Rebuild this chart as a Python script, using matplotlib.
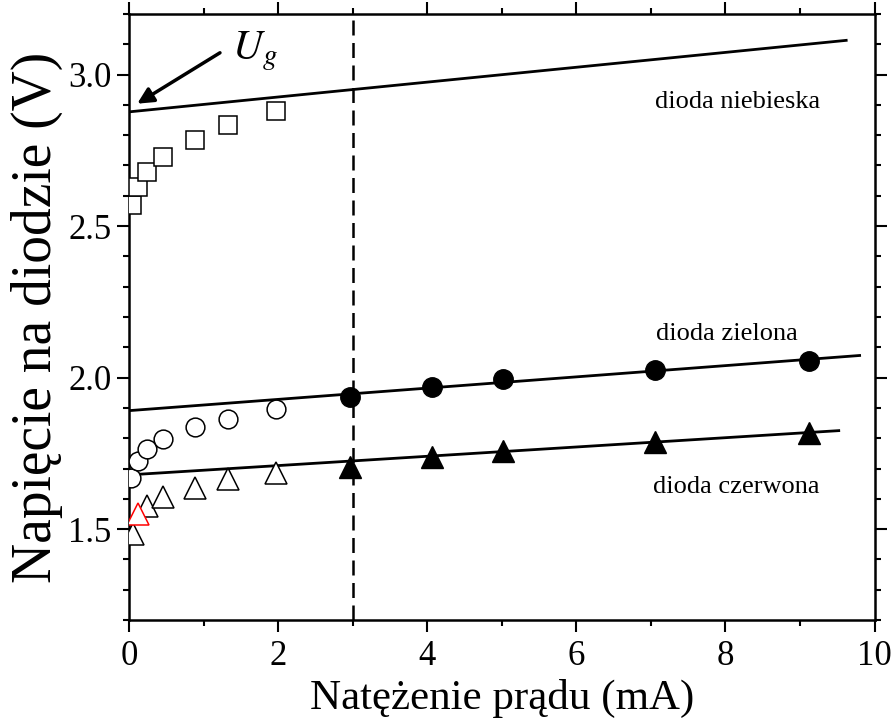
import numpy as np
import matplotlib
matplotlib.use("Agg")
import matplotlib.pyplot as plt
from matplotlib.ticker import MultipleLocator

plt.rcParams['font.family'] = ['Liberation Serif', 'DejaVu Serif']
plt.rcParams['mathtext.fontset'] = 'stix'

# dane (prad w mA, napiecie w V)
# dioda niebieska - pomiary przy malych pradach
I_blue = [0.04, 0.114, 0.24, 0.46, 0.89, 1.33, 1.97]
U_blue = [2.570, 2.628, 2.679, 2.727, 2.785, 2.834, 2.879]

# dioda zielona
I_green_low = [0.03, 0.117, 0.24, 0.46, 0.89, 1.33, 1.97]
U_green_low = [1.668, 1.725, 1.766, 1.797, 1.838, 1.865, 1.896]
I_green_high = [2.96, 4.06, 5.01, 7.05, 9.12]
U_green_high = [1.937, 1.968, 1.996, 2.025, 2.056]

# dioda czerwona
I_red_low = [0.06, 0.24, 0.46, 0.89, 1.33, 1.97]
U_red_low = [1.485, 1.576, 1.607, 1.635, 1.665, 1.684]
I_red_mark = [0.117]
U_red_mark = [1.549]
I_red_high = [2.96, 4.06, 5.01, 7.05, 9.12]
U_red_high = [1.706, 1.738, 1.758, 1.788, 1.818]

# proste dopasowania (poczatek i koniec odcinka)
fit_blue_I = [0.0, 9.62]
fit_blue_U = [2.877, 3.113]
fit_green_I = [0.0, 9.80]
fit_green_U = [1.891, 2.073]
fit_red_I = [0.0, 9.52]
fit_red_U = [1.679, 1.825]

I_cut = 3.0

fig = plt.figure(figsize=(8.91, 7.25), dpi=100)
ax = fig.add_axes([0.1448, 0.1448, 0.8367, 0.8359])

ax.plot(fit_blue_I, fit_blue_U, color='black', lw=2.0, zorder=2)
ax.plot(fit_green_I, fit_green_U, color='black', lw=2.0, zorder=2)
ax.plot(fit_red_I, fit_red_U, color='black', lw=2.0, zorder=2)
ax.axvline(I_cut, color='black', lw=1.8, dashes=(6, 3), zorder=1)

open_kw = dict(ls='none', mfc='white', mec='black', mew=1.1, zorder=4)
ax.plot(I_blue, U_blue, marker='s', ms=12.5, **open_kw)
ax.plot(I_green_low, U_green_low, marker='o', ms=13.5, **open_kw)
ax.plot(I_red_low, U_red_low, marker='^', ms=15.5, **open_kw)
ax.plot(I_red_mark, U_red_mark, marker='^', ls='none', mfc='white', mec='red',
        mew=1.1, ms=15.5, zorder=4)

ax.plot(I_green_high, U_green_high, marker='o', ls='none', color='black', ms=14, zorder=4)
ax.plot(I_red_high, U_red_high, marker='^', ls='none', color='black', ms=16.5, zorder=4)

ax.text(7.06, 2.89, 'dioda niebieska', fontsize=19)
ax.text(7.07, 2.1225, 'dioda zielona', fontsize=19)
ax.text(7.03, 1.62, 'dioda czerwona', fontsize=19)

ax.annotate('', xy=(0.11, 2.904), xytext=(1.22, 3.072),
            arrowprops=dict(arrowstyle='-|>', color='black', lw=2.5,
                            mutation_scale=24, shrinkA=0, shrinkB=0))
ax.text(1.38, 3.05, '$U_g$', fontsize=30)

ax.set_xlim(0, 10)
ax.set_ylim(1.2, 3.2)
ax.xaxis.set_major_locator(MultipleLocator(2))
ax.xaxis.set_minor_locator(MultipleLocator(1))
ax.yaxis.set_major_locator(MultipleLocator(0.5))
ax.yaxis.set_minor_locator(MultipleLocator(0.1))

ax.tick_params(which='both', direction='out', width=1.5, labelsize=25,
               top=True, right=True)
ax.tick_params(which='major', length=8.5)
ax.tick_params(which='minor', length=4.3)
ax.tick_params(axis='x', pad=6)
ax.tick_params(axis='y', pad=4)

for s in ax.spines.values():
    s.set_linewidth(1.8)

ax.set_xlabel('Natężenie prądu (mA)', fontsize=31, labelpad=4)
ax.set_ylabel('Napięcie na diodzie (V)', fontsize=40, labelpad=4)

fig.savefig('out.png', dpi=100)
